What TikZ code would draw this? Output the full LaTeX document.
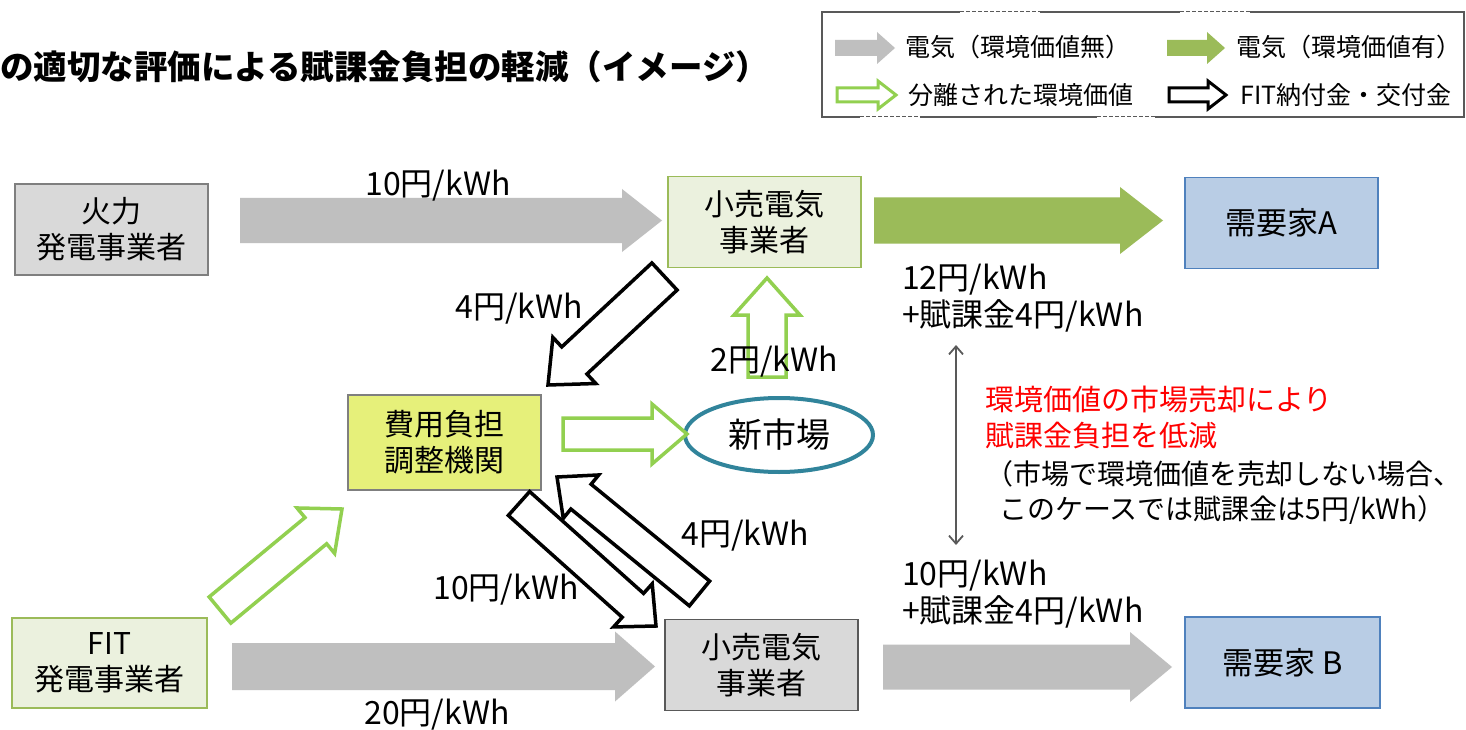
\documentclass[tikz,border=0pt]{standalone}
\usepackage{fontspec}
\setmainfont{Noto Sans CJK JP}
\usetikzlibrary{calc,arrows.meta,shapes.geometric}
\definecolor{arrgray}{HTML}{BFBFBF}
\definecolor{arrgreen}{HTML}{9BBB59}
\definecolor{lgreen}{HTML}{92D050}
\definecolor{boxgray}{HTML}{D9D9D9}
\definecolor{boxgreen}{HTML}{EBF1DE}
\definecolor{boxblue}{HTML}{B9CDE5}
\definecolor{bordblue}{HTML}{4F81BD}
\definecolor{boxyellow}{HTML}{E6F07A}
\definecolor{mkteal}{HTML}{31849B}
\definecolor{bordgray}{HTML}{7F7F7F}
\definecolor{darkbord}{HTML}{595959}
% block arrow: style, tail, tip, shaft half width, head half width, head length
\newcommand\barrow[6]{%
  \coordinate (ba-c) at ($(#3)!#6!(#2)$);
  \filldraw[#1] ($(#2)!#4!90:(#3)$) -- ($(ba-c)!#4!-90:(#2)$) -- ($(ba-c)!#5!-90:(#2)$) -- (#3)
    -- ($(ba-c)!#5!90:(#2)$) -- ($(ba-c)!#4!90:(#2)$) -- ($(#2)!#4!-90:(#3)$) -- cycle;}
\tikzset{
  box/.style={draw, line width=1.2pt, minimum width=193pt, minimum height=91pt, align=center,
    font=\fontsize{30}{36}\selectfont, inner sep=0pt},
  price/.style={font=\fontsize{32}{36}\selectfont, inner sep=0pt},
  note/.style={font=\fontsize{29}{36}\selectfont, inner sep=0pt, anchor=west},
  smallnote/.style={font=\fontsize{28}{36}\selectfont, inner sep=0pt, anchor=west},
  legtext/.style={font=\fontsize{25}{30}\selectfont, inner sep=0pt, anchor=west},
  grayfill/.style={fill=arrgray, draw=none},
  greenfill/.style={fill=arrgreen, draw=none},
  greenline/.style={fill=white, draw=lgreen, line width=3.5pt, line join=miter},
  blackline/.style={fill=white, draw=black, line width=3.5pt, line join=miter},
}
\begin{document}
\begin{tikzpicture}[x=1pt,y=-1pt]
\useasboundingbox (0,0) rectangle (1466,730);
\fill[white] (0,0) rectangle (1466,730);

% title
\node[font=\bfseries\fontsize{33.5}{38}\selectfont, inner sep=0pt, anchor=west] (title) at (0,67)
  {の適切な評価による賦課金負担の軽減（イメージ）};

% legend
\node[draw=darkbord, line width=1.2pt, minimum width=642pt, minimum height=105pt, inner sep=0pt] (leg) at (1143,64.5) {};
\draw[white, line width=2pt] (960,12) -- (1040,12) (1180,12) -- (1250,12)
  (860,117) -- (920,117) (1097,117) -- (1155,117);
\draw[darkbord, dash pattern=on 4pt off 2pt, line width=1pt] (960,12) -- (1040,12) (1180,12) -- (1250,12)
  (860,117) -- (920,117) (1097,117) -- (1155,117);
\coordinate (l1a) at (835,48); \coordinate (l1b) at (895,48);
\coordinate (l2a) at (1167,48); \coordinate (l2b) at (1225,48);
\coordinate (l3a) at (837,95); \coordinate (l3b) at (896,95);
\coordinate (l4a) at (1169,95); \coordinate (l4b) at (1226,95);
\barrow{grayfill}{l1a}{l1b}{8pt}{16pt}{18pt}
\barrow{greenfill}{l2a}{l2b}{8pt}{16pt}{18pt}
\barrow{greenline, line width=3pt}{l3a}{l3b}{7pt}{14pt}{18pt}
\barrow{blackline, line width=3pt}{l4a}{l4b}{7pt}{14pt}{18pt}
\node[legtext] (lt1) at (905,47) {電気（環境価値無）};
\node[legtext] (lt2) at (1236,47) {電気（環境価値有）};
\node[legtext] (lt3) at (908,95) {分離された環境価値};
\node[legtext] (lt4) at (1240,95) {FIT納付金・交付金};

% boxes
\node[box, fill=boxgray, draw=bordgray] (kr) at (111.5,229.5) {火力\\発電事業者};
\node[box, fill=boxgreen, draw=arrgreen] (ka) at (764.5,222) {小売電気\\事業者};
\node[box, fill=boxblue, draw=bordblue, font=\fontsize{31}{36}\selectfont] (ja) at (1281.5,223) {需要家A};
\node[box, fill=boxyellow, draw=bordgray, minimum height=95pt] (hy) at (444.5,442.5) {費用負担\\調整機関};
\node[box, fill=boxgreen, draw=arrgreen, minimum width=195pt, minimum height=90pt] (fit) at (109.5,663) {FIT\\発電事業者};
\node[box, fill=boxgray, draw=darkbord] (kb) at (761.5,665) {小売電気\\事業者};
\node[box, fill=boxblue, draw=bordblue, minimum width=195pt, font=\fontsize{31}{36}\selectfont] (jb) at (1282.5,662.5) {需要家 B};

% horizontal filled arrows
\coordinate (g1a) at (240,220.5); \coordinate (g1b) at (662,220.5);
\coordinate (g2a) at (874,220.5); \coordinate (g2b) at (1163,220.5);
\coordinate (g3a) at (232,666.5); \coordinate (g3b) at (655,666.5);
\coordinate (g4a) at (883,667); \coordinate (g4b) at (1172,667);
\barrow{grayfill}{g1a}{g1b}{22.5pt}{31.5pt}{40pt}
\barrow{greenfill}{g2a}{g2b}{23pt}{33.5pt}{43pt}
\barrow{grayfill}{g3a}{g3b}{23.5pt}{35pt}{40pt}
\barrow{grayfill}{g4a}{g4b}{22.5pt}{35pt}{42pt}

% ellipse
\node[ellipse, draw=mkteal, line width=4pt, fill=white, minimum width=188pt, minimum height=74pt,
  font=\fontsize{34}{38}\selectfont, inner sep=0pt] (sm) at (779,435) {新市場};

% outlined arrows
\coordinate (b1a) at (664.5,276.5); \coordinate (b1b) at (548,385);
\barrow{blackline}{b1a}{b1b}{18.5pt}{31.5pt}{36pt}
\coordinate (u1a) at (767,377); \coordinate (u1b) at (767,278);
\barrow{greenline}{u1a}{u1b}{19pt}{33pt}{37pt}
\coordinate (r1a) at (563,434); \coordinate (r1b) at (687,434);
\barrow{greenline}{r1a}{r1b}{16pt}{30pt}{35pt}
\coordinate (f1a) at (220,610); \coordinate (f1b) at (342,509);
\barrow{greenline}{f1a}{f1b}{17pt}{29.5pt}{34pt}
\coordinate (b2a) at (519,503.5); \coordinate (b2b) at (656,626);
\barrow{blackline}{b2a}{b2b}{16pt}{29pt}{31pt}
\coordinate (b3a) at (699.5,593.5); \coordinate (b3b) at (557,477);
\barrow{blackline}{b3a}{b3b}{16pt}{28pt}{31pt}

% price labels
\node[price] (p1) at (438,186) {10円/kWh};
\node[price] (p4) at (519,309) {4円/kWh};
\node[price] (p5) at (774,362) {2円/kWh};
\node[price] (p6) at (745,536) {4円/kWh};
\node[price] (p7) at (506,590) {10円/kWh};
\node[price] (p8) at (437,715) {20円/kWh};
\node[price, anchor=west] (p2) at (902,280) {12円/kWh};
\node[price, anchor=west] (p3) at (902,316) {+賦課金4円/kWh};
\node[price, anchor=west] (p9) at (902,576) {10円/kWh};
\node[price, anchor=west] (p10) at (902,612) {+賦課金4円/kWh};

% double arrow
\coordinate (da) at (956,345); \coordinate (db) at (956,545);
\draw[darkbord, line width=1.8pt, {Straight Barb[length=8pt,width=14pt]}-{Straight Barb[length=8pt,width=14pt]}] (da) -- (db);

% note
\node[note, text=red] (n1) at (985,399) {環境価値の市場売却により};
\node[note, text=red] (n2) at (985,436) {賦課金負担を低減};
\node[smallnote] (n3) at (985,474) {（市場で環境価値を売却しない場合、};
\node[smallnote] (n4) at (999,510) {このケースでは賦課金は5円/kWh）};
\end{tikzpicture}
\end{document}
